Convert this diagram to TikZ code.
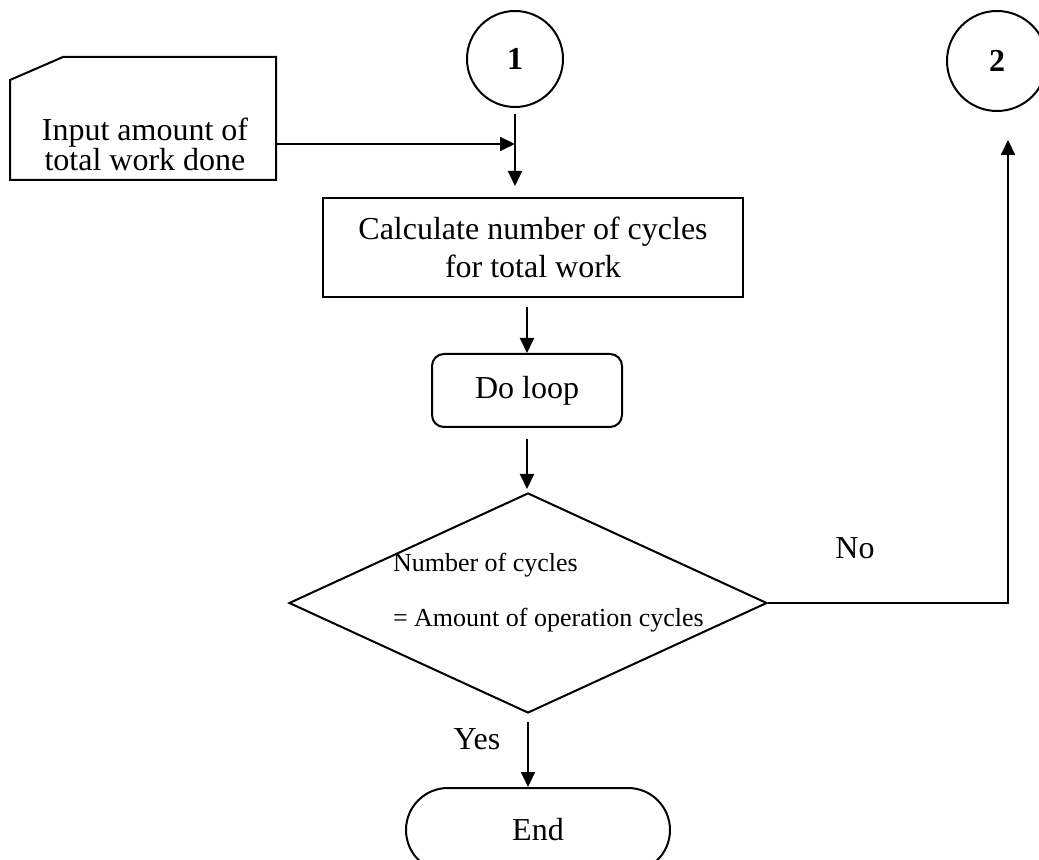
\documentclass[tikz,border=0pt]{standalone}
\usepackage{fontspec}
\setmainfont{Liberation Serif}
\usetikzlibrary{shapes.geometric,arrows.meta,calc}

\begin{document}
\begin{tikzpicture}[x=0.5pt,y=-0.5pt,line width=1pt,
  font=\fontsize{16}{19}\selectfont,
  arr/.style={-{Triangle[length=7.5pt,width=7pt]}},
  conn/.style={draw,circle,minimum size=48pt,inner sep=0pt,font=\fontsize{16}{19}\selectfont\bfseries},
  procbox/.style={draw,rectangle,align=center,minimum width=210pt,minimum height=49.5pt},
  loopbox/.style={draw,rectangle,rounded corners=6pt,minimum width=95pt,minimum height=36.5pt},
  decision/.style={draw,diamond,minimum width=239pt,minimum height=110pt,inner sep=0pt},
  terminal/.style={draw,rectangle,rounded corners=21pt,minimum width=132pt,minimum height=42pt},
  condtext/.style={anchor=base west,inner sep=0pt,font=\fontsize{13}{15}\selectfont}]
\useasboundingbox (0,0) rectangle (1039,860);
% connectors
\node (one) [conn] at (515,59) {1};
\node (two) [conn,minimum size=50pt] at (997,61) {2};
% manual input
\node (inbox) [minimum width=133pt,minimum height=61.5pt,outer sep=0pt] at (143,118.5) {};
\draw ($(inbox.north west)+(0,23)$) -- ($(inbox.north west)+(53,0)$) -- (inbox.north east)
  -- (inbox.south east) -- (inbox.south west) -- cycle;
\node (input) [align=center,font=\fontsize{16}{15}\selectfont] at (145,144) {Input amount of\\total work done};
% process steps
\node (calc) [procbox] at (533,247.5) {Calculate number of cycles\\for total work};
\node (doloop) [loopbox] at (527,390.5) {Do loop};
\node (cond) [decision] at (528,603) {};
\node (cyc1) [condtext] at (392,572) {Number of cycles};
\node (cyc2) [condtext] at (392,627) {= Amount of operation cycles};
\node (stop) [terminal] at (538,830) {End};
\node (yes) at (477,739) {Yes};
\node (no) at (855,548) {No};
\coordinate (join) at (515,144);
\coordinate (up2) at (1008,140);
% arrows
\draw[arr] (inbox.east |- input) -- (join);
\draw[arr,shorten <=3pt,shorten >=5.5pt] (one.south) -- (one.south |- calc.north);
\draw[arr,shorten <=4.5pt] (calc.south -| doloop) -- (doloop.north);
\draw[arr,shorten <=5.5pt,shorten >=1.5pt] (doloop.south) -- (doloop.south |- cond.north);
\draw[arr,shorten <=4pt] (cond.south) -- (cond.south |- stop.north);
\draw[arr] (cond.east) -| (up2);
\end{tikzpicture}
\end{document}
